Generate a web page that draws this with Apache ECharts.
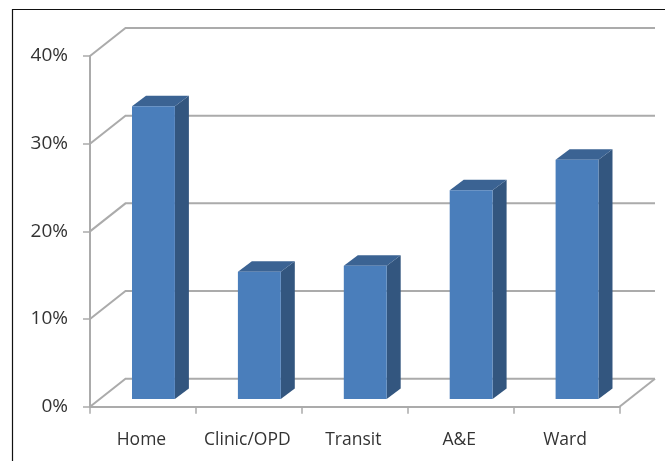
<!DOCTYPE html>
<html>
<head>
<meta charset="utf-8">
<style>html,body{margin:0;padding:0;background:#fff}#c{width:665px;height:461px}</style>
<script src="https://cdn.jsdelivr.net/npm/echarts@6/dist/echarts.min.js"></script>
</head>
<body>
<div id="c"></div>
<script>
const categories = ['Home', 'Clinic/OPD', 'Transit', 'A&E', 'Ward'];
const shares = [33.4, 14.5, 15.2, 23.8, 27.3];
const gridValues = [0, 10, 20, 30, 40];

const wallDx = 35.5, wallDy = -28;
const barDx = 14, barDy = -10.5;
const baseDx = 10.5, baseDy = -7.7;
const barRatio = 0.405;
const lineColor = '#ababab';
const font = '"Open Sans"';

function renderGrid(params, api) {
  const v = api.value(0);
  const rect = params.coordSys;
  const p = api.coord([0, v]);
  const left = rect.x;
  const right = rect.x + rect.width;
  const children = [{
    type: 'polyline',
    shape: { points: [[left, p[1]], [left + wallDx, p[1] + wallDy], [right + wallDx, p[1] + wallDy]] },
    style: { stroke: lineColor, lineWidth: 2, fill: null }
  }];
  if (v === 0) {
    children.push({
      type: 'line',
      shape: { x1: right, y1: p[1], x2: right + wallDx, y2: p[1] + wallDy },
      style: { stroke: lineColor, lineWidth: 2 }
    });
  }
  return { type: 'group', children };
}

function renderBar(params, api) {
  const i = api.value(0);
  const top = api.coord([i, api.value(1)]);
  const base = api.coord([i, 0]);
  const w = api.size([1, 0])[0] * barRatio;
  const x0 = top[0] - w / 2 + baseDx, x1 = x0 + w;
  const yT = top[1] + baseDy, yB = base[1] + baseDy;
  return {
    type: 'group',
    children: [
      { type: 'polygon', shape: { points: [[x1, yT], [x1 + barDx, yT + barDy], [x1 + barDx, yB + barDy], [x1, yB]] }, style: { fill: '#33567f' } },
      { type: 'polygon', shape: { points: [[x0, yT], [x0 + barDx, yT + barDy], [x1 + barDx, yT + barDy], [x1, yT]] }, style: { fill: '#3b6393' } },
      { type: 'rect', shape: { x: x0, y: yT, width: w, height: yB - yT }, style: { fill: '#4a7ebb' } }
    ]
  };
}

const chart = echarts.init(document.getElementById('c'), null, { renderer: 'canvas' });
chart.setOption({
  animation: false,
  backgroundColor: '#fff',
  grid: { left: 90, top: 56, width: 529.5, height: 350.7, containLabel: false },
  graphic: [{
    type: 'polyline', silent: true,
    shape: { points: [[12.5, 461], [12.5, 9.5], [665, 9.5]] },
    style: { stroke: '#111', lineWidth: 1.2, fill: null }
  }],
  xAxis: {
    type: 'category', data: categories,
    axisLine: { lineStyle: { color: lineColor, width: 2 } },
    axisTick: { show: true, interval: 0, length: 7, lineStyle: { color: lineColor, width: 1.5 } },
    axisLabel: { color: '#333', fontFamily: font, fontSize: 17.5, margin: 24, interval: 0, hideOverlap: false, padding: [0, 3, 0, 0] },
    splitLine: { show: false }
  },
  yAxis: {
    type: 'value', min: 0, max: 40, interval: 10,
    axisLine: { show: true, lineStyle: { color: lineColor, width: 2 } },
    axisTick: { show: true, length: 7, lineStyle: { color: lineColor, width: 1.5 } },
    axisLabel: { color: '#333', fontFamily: font, fontSize: 19, margin: 22, formatter: '{value}%', padding: [2, 0, 0, 0] },
    splitLine: { show: false }
  },
  series: [
    { type: 'custom', coordinateSystem: 'cartesian2d', data: gridValues.map(v => [v]), encode: { y: 0 }, renderItem: renderGrid, silent: true, z: 1 },
    { type: 'custom', coordinateSystem: 'cartesian2d', data: shares.map((v, i) => [i, v]), encode: { x: 0, y: 1 }, renderItem: renderBar, z: 3 }
  ]
});
</script>
</body>
</html>
